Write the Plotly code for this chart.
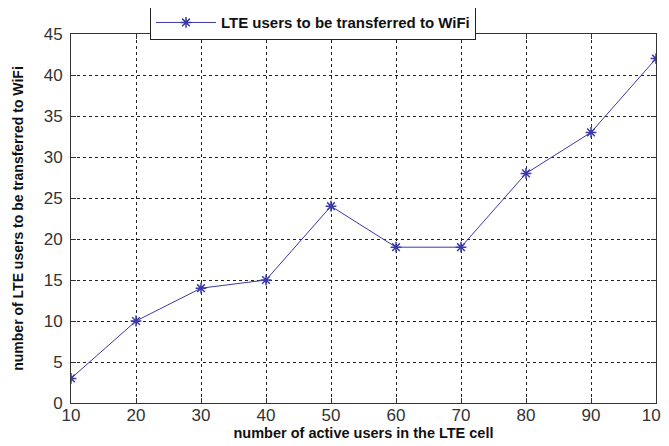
import plotly.graph_objects as go

active_users = [10, 20, 30, 40, 50, 60, 70, 80, 90, 100]
lte_to_wifi = [3, 10, 14, 15, 24, 19, 19, 28, 33, 42]

x_ticks = [10, 20, 30, 40, 50, 60, 70, 80, 90, 100]
y_ticks = [0, 5, 10, 15, 20, 25, 30, 35, 40, 45]

FONT = 'Arial, Liberation Sans'


def get_line_trace(x_axis, values, name):
  return go.Scatter(
    x=x_axis,
    y=values,
    mode='lines+markers',
    line={'color': '#3a3aa8', 'width': 1},
    marker={'symbol': 'asterisk-open', 'size': 9,
            'line': {'color': '#1010c0', 'width': 1.5}},
    name=name
  )


def axis_style(ticks, rng):
  return dict(
    range=rng,
    tickvals=ticks,
    ticks='inside',
    ticklen=5,
    tickcolor='#333',
    showline=True,
    linecolor='#333',
    linewidth=1,
    mirror='ticks',
    showgrid=True,
    gridcolor='#222',
    gridwidth=1,
    griddash='3px,3px',
    zeroline=False,
    tickfont={'family': FONT, 'size': 17, 'color': '#333'}
  )


fig = go.Figure(data=[get_line_trace(active_users, lte_to_wifi,
                                     'LTE users to be transferred to WiFi')])

xaxis = axis_style(x_ticks, [10, 100])
xaxis['ticklabelstandoff'] = -3
xaxis['title'] = {'text': 'number of active users in the LTE cell',
                  'font': {'family': FONT, 'size': 14.5, 'color': '#111', 'weight': 'bold'},
                  'standoff': 0}
yaxis = axis_style(y_ticks, [0, 45])
yaxis['ticklabelstandoff'] = 4
yaxis['title'] = {'text': 'number of LTE users to be transferred to WiFi',
                  'font': {'family': FONT, 'size': 14, 'color': '#111', 'weight': 'bold'},
                  'standoff': 16}

# page body has an 8px margin, so the figure is offset by 8px right and down
fig.update_layout(
  width=669,
  height=446,
  margin={'l': 63, 'r': 21, 't': 26, 'b': 51, 'autoexpand': False},
  paper_bgcolor='white',
  plot_bgcolor='white',
  xaxis=xaxis,
  yaxis=yaxis,
  showlegend=True,
  legend=dict(
    x=0.135, y=1.078, xanchor='left', yanchor='top',
    bgcolor='white',
    bordercolor='#222',
    borderwidth=1,
    itemwidth=60,
    font={'family': FONT, 'size': 15, 'color': '#111', 'weight': 'bold'}
  )
)

fig.write_html("out.html")
